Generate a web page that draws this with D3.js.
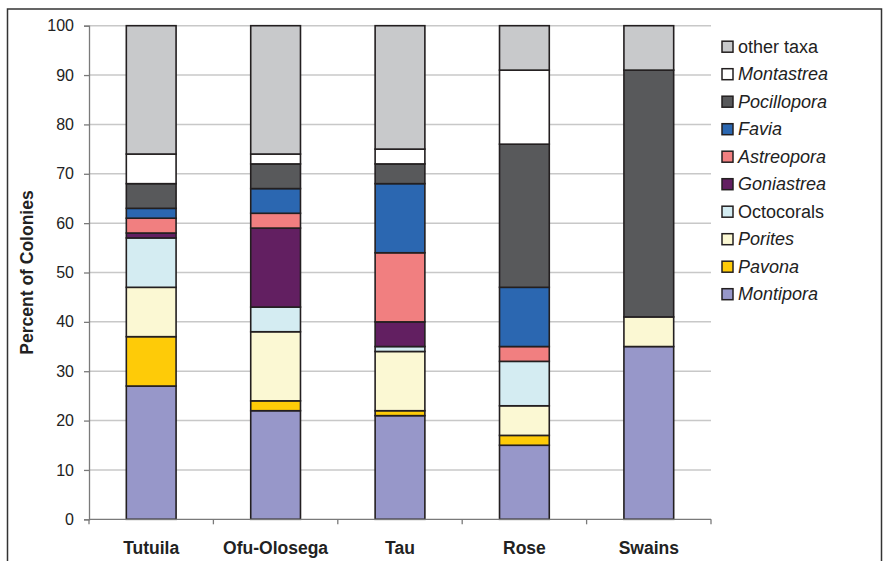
<!DOCTYPE html>
<html>
<head>
<meta charset="utf-8">
<script src="https://cdn.jsdelivr.net/npm/d3@7"></script>
<style>
  html, body { margin: 0; padding: 0; background: #fff; }
  svg { display: block; font-family: "Liberation Sans", Arial, sans-serif; }
</style>
</head>
<body>
<svg id="chart" width="885" height="561"></svg>
<script>
// ---- data ----
const islands = ["Tutuila", "Ofu-Olosega", "Tau", "Rose", "Swains"];
const taxa = ["Montipora", "Pavona", "Porites", "Octocorals", "Goniastrea", "Astreopora", "Favia", "Pocillopora", "Montastrea", "other taxa"];
const montipora   = [27, 22, 21, 15, 35];
const pavona      = [10,  2,  1,  2,  0];
const porites     = [10, 14, 12,  6,  6];
const octocorals  = [10,  5,  1,  9,  0];
const goniastrea  = [ 1, 16,  5,  0,  0];
const astreopora  = [ 3,  3, 14,  3,  0];
const favia       = [ 2,  5, 14, 12,  0];
const pocillopora = [ 5,  5,  4, 29, 50];
const montastrea  = [ 6,  2,  3, 15,  0];
const otherTaxa   = [26, 26, 25,  9,  9];
const yTicks = [0, 10, 20, 30, 40, 50, 60, 70, 80, 90, 100];
const italicTaxa = ["Montipora", "Pavona", "Porites", "Goniastrea", "Astreopora", "Favia", "Pocillopora", "Montastrea"];

const seriesValues = [montipora, pavona, porites, octocorals, goniastrea, astreopora, favia, pocillopora, montastrea, otherTaxa];
const colors = ["#9797c9", "#fecb08", "#fbf8d3", "#d4ecf2", "#621f61", "#f17f80", "#2b67b1", "#58595b", "#ffffff", "#c8c9cb"];

const rows = islands.map((isl, i) => {
  const r = { island: isl };
  taxa.forEach((t, k) => r[t] = seriesValues[k][i]);
  return r;
});

// ---- layout ----
const svg = d3.select("#chart");
const pLeft = 89, pRight = 711, pTop = 25.7, pBottom = 519.3;

const x = d3.scaleBand().domain(islands).range([pLeft, pRight]).paddingInner(0.6).paddingOuter(0.3);
const y = d3.scaleLinear().domain([0, 100]).range([pBottom, pTop]);

// frame
svg.append("rect").attr("x", 7.5).attr("y", 9).attr("width", 874).attr("height", 570)
  .attr("fill", "none").attr("stroke", "#333").attr("stroke-width", 1.5);

// gridlines
svg.append("g").selectAll("line").data(yTicks.filter(d => d > 0)).join("line")
  .attr("x1", pLeft).attr("x2", pRight)
  .attr("y1", d => y(d)).attr("y2", d => y(d))
  .attr("stroke", "#c8c8c8").attr("stroke-width", 1.5);

// bars
const stacked = d3.stack().keys(taxa)(rows);
const barG = svg.append("g");
stacked.forEach((s, k) => {
  barG.append("g").selectAll("rect").data(s.filter(d => d[1] - d[0] > 0)).join("rect")
    .attr("x", d => x(d.data.island))
    .attr("width", x.bandwidth())
    .attr("y", d => y(d[1]))
    .attr("height", d => y(d[0]) - y(d[1]))
    .attr("fill", colors[k])
    .attr("stroke", "#231f20")
    .attr("stroke-width", 1.6);
});

// y axis
const yAxis = d3.axisLeft(y).tickValues(yTicks).tickSize(5).tickPadding(10);
const yg = svg.append("g").attr("transform", `translate(${pLeft},0)`).call(yAxis);
yg.select(".domain").attr("stroke", "#7a7a7a").attr("stroke-width", 1.3);
yg.selectAll(".tick line").attr("stroke", "#7a7a7a").attr("stroke-width", 1.3);
yg.selectAll(".tick text").attr("font-size", 16).attr("fill", "#222")
  .attr("font-family", "'Liberation Sans', Arial, sans-serif");

// x axis with tick marks at category boundaries
const xBoundaries = d3.range(islands.length + 1).map(i => pLeft + i * (pRight - pLeft) / islands.length);
const xg = svg.append("g");
xg.append("line").attr("x1", pLeft).attr("x2", pRight).attr("y1", pBottom).attr("y2", pBottom)
  .attr("stroke", "#7a7a7a").attr("stroke-width", 1.3);
xg.selectAll("line.tk").data(xBoundaries).join("line").attr("class", "tk")
  .attr("x1", d => d).attr("x2", d => d).attr("y1", pBottom).attr("y2", pBottom + 5)
  .attr("stroke", "#7a7a7a").attr("stroke-width", 1.3);
xg.selectAll("text").data(islands).join("text")
  .attr("x", d => x(d) + x.bandwidth() / 2)
  .attr("y", 554)
  .attr("text-anchor", "middle")
  .attr("font-size", 17.5).attr("font-weight", "bold").attr("fill", "#222")
  .text(d => d);

// y title
svg.append("text")
  .attr("transform", `translate(33,${(pTop + pBottom) / 2}) rotate(-90)`)
  .attr("text-anchor", "middle")
  .attr("font-size", 17.5).attr("font-weight", "bold").attr("fill", "#222")
  .text("Percent of Colonies");

// legend (top to bottom: reverse stack order)
const legendItems = taxa.map((t, k) => ({ t, c: colors[k] })).reverse();
const lg = svg.append("g");
legendItems.forEach((d, i) => {
  const cy = 46.7 + i * 27.5;
  lg.append("rect").attr("x", 722).attr("y", cy - 5.5).attr("width", 11).attr("height", 11)
    .attr("fill", d.c).attr("stroke", "#231f20").attr("stroke-width", 1.5);
  lg.append("text").attr("x", 738).attr("y", cy + 6)
    .attr("font-size", 18).attr("fill", "#222")
    .attr("font-style", italicTaxa.includes(d.t) ? "italic" : "normal")
    .text(d.t);
});
</script>
</body>
</html>
